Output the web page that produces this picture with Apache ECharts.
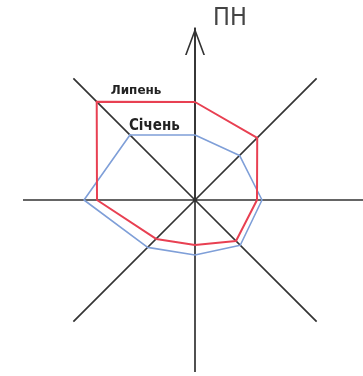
<!DOCTYPE html>
<html>
<head>
<meta charset="utf-8">
<script src="https://cdn.jsdelivr.net/npm/echarts@6/dist/echarts.min.js"></script>
<style>
  html, body { margin: 0; padding: 0; background: #fff; }
  #chart { width: 363px; height: 376px; }
</style>
</head>
<body>
<div id="chart"></div>
<script>
// wind rose: 8 directions, clockwise from north
const directions = ['ПН', 'ПнСх', 'Сх', 'ПдСх', 'Пд', 'ПдЗх', 'Зх', 'ПнЗх'];
const julyValues = [9.8, 8.8, 6.2, 5.8, 4.5, 5.5, 9.8, 13.9];
const januaryValues = [6.5, 6.3, 6.7, 6.4, 5.5, 6.7, 11.1, 9.2];
const julyName = 'Липень';
const januaryName = 'Січень';
const northLabel = 'ПН';
const radiusMax = 17.2;

const AXIS = '#333';
const RED = '#e84052';
const BLUE = '#7f9fd8';
const STEP = 360 / directions.length;

// closed polygon (angle in degrees), label hung on the north-west point
function ring(values, name, labelPos, font) {
    const pts = values.map((v, i) => [v, i * STEP]);
    pts[7] = {
        value: pts[7],
        symbol: 'circle',
        symbolSize: 2,
        label: Object.assign({
            show: true,
            formatter: name,
            position: labelPos,
            align: 'left',
            verticalAlign: 'middle',
            color: '#222',
            fontWeight: 'bold',
        }, font),
    };
    pts.push([values[0], 360]);
    return pts;
}

const chart = echarts.init(document.getElementById('chart'), null, { renderer: 'canvas' });
chart.setOption({
    backgroundColor: '#fff',
    animation: false,
    polar: { center: [195, 200], radius: 172 },
    angleAxis: {
        type: 'value',
        min: 0,
        max: 360,
        interval: STEP,
        startAngle: 90,
        clockwise: true,
        axisLine: { show: false },
        axisTick: { show: false },
        axisLabel: { show: false },
        splitLine: { show: true, lineStyle: { color: AXIS, width: 1.7 } },
    },
    radiusAxis: {
        type: 'value',
        min: 0,
        max: radiusMax,
        name: northLabel,
        nameLocation: 'end',
        nameGap: 10,
        nameTextStyle: {
            align: 'left',
            verticalAlign: 'middle',
            padding: [0, 0, 0, 18],
            color: '#444',
            fontFamily: 'DejaVu Sans Condensed',
            fontSize: 25,
        },
        axisLine: {
            show: true,
            symbol: ['none', 'path://M10 0 L20 27 L18.3 27 L10 4.5 L1.7 27 L0 27 Z'],
            symbolSize: [20, 27],
            symbolOffset: [0, -13.5],
            lineStyle: { color: AXIS, width: 1.7 },
        },
        axisTick: { show: false },
        axisLabel: { show: false },
        splitLine: { show: false },
    },
    series: [
        {
            name: julyName,
            type: 'line',
            coordinateSystem: 'polar',
            symbol: 'none',
            data: ring(julyValues, julyName, [15, -10],
                { fontFamily: 'DejaVu Sans', fontSize: 12 }),
            lineStyle: { color: RED, width: 2 },
            itemStyle: { color: RED },
            z: 3,
        },
        {
            name: januaryName,
            type: 'line',
            coordinateSystem: 'polar',
            symbol: 'none',
            data: ring(januaryValues, januaryName, [0, -8],
                { fontFamily: 'DejaVu Sans Condensed', fontSize: 15 }),
            lineStyle: { color: BLUE, width: 1.6 },
            itemStyle: { color: BLUE },
            z: 2,
        },
    ],
});
</script>
</body>
</html>
